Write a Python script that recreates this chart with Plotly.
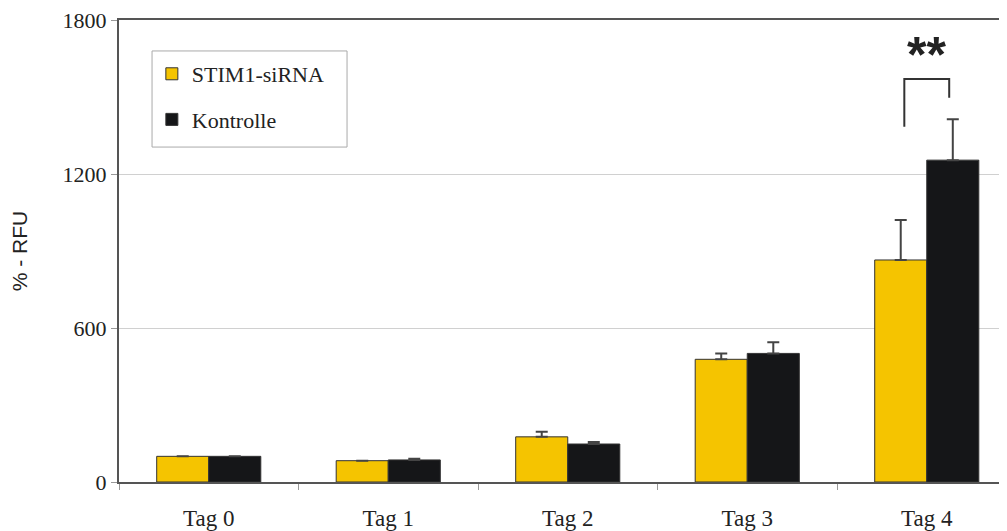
import plotly.graph_objects as go

categories = ["Tag 0", "Tag 1", "Tag 2", "Tag 3", "Tag 4"]
stim_values = [100, 83, 176, 478, 865]
stim_errors = [0, 0, 20, 23, 156]
ctrl_values = [100, 86, 148, 501, 1254]
ctrl_errors = [0, 5, 8, 43, 159]
y_ticks = [0, 600, 1200, 1800]

# significance bracket (category index offsets and y values)
bracket_cat = 4
bracket_left_y = 1384
bracket_right_y = 1497
bracket_top_y = 1570
star_y = 1665

YELLOW = "#F5C400"
BLACK = "#151618"
SERIF = "Liberation Serif, Times New Roman, serif"

fig = go.Figure()
fig.add_trace(go.Bar(
    x=categories, y=stim_values, name="STIM1-siRNA",
    marker=dict(color=YELLOW, line=dict(color="#333333", width=1)),
    error_y=dict(type="data", array=stim_errors, arrayminus=[0]*5, symmetric=False,
                 color="#444444", thickness=2, width=6),
    legendgroup="a",
))
fig.add_trace(go.Bar(
    x=categories, y=ctrl_values, name="Kontrolle",
    marker=dict(color=BLACK, line=dict(color="#333333", width=1)),
    error_y=dict(type="data", array=ctrl_errors, arrayminus=[0]*5, symmetric=False,
                 color="#444444", thickness=2, width=6),
    legendgroup="b",
))

# bracket
fig.add_shape(type="path",
              path=f"M {bracket_cat-0.125},{bracket_left_y} L {bracket_cat-0.125},{bracket_top_y} "
                   f"L {bracket_cat+0.125},{bracket_top_y} L {bracket_cat+0.125},{bracket_right_y}",
              xref="x", yref="y", line=dict(color="#333333", width=2))
fig.add_annotation(x=bracket_cat, y=star_y, xref="x", yref="y", text="<b>**</b>",
                   showarrow=False, font=dict(family="Liberation Sans, Arial", size=50, color="#222222"))

# legend frame
fig.add_shape(type="rect", xref="paper", yref="paper", x0=0.0372, x1=0.2568, y0=0.725, y1=0.933,
              line=dict(color="#aaaaaa", width=1), fillcolor="rgba(0,0,0,0)", layer="above")

fig.update_layout(
    width=999, height=531,
    margin=dict(l=111, r=0, t=12, b=57),
    paper_bgcolor="white", plot_bgcolor="white",
    barmode="group", bargap=0.42, bargroupgap=0,
    font=dict(family=SERIF, size=20, color="#222222"),
    showlegend=True,
    legend=dict(x=0.037, y=0.9286, xanchor="left", yanchor="top",
                borderwidth=0, bgcolor="rgba(0,0,0,0)",
                font=dict(family=SERIF, size=22, color="#222222"),
                tracegroupgap=14, itemwidth=30),
    xaxis=dict(range=[-0.5, 4.447], showline=True, linecolor="#555555", linewidth=2,
               mirror=True, ticks="outside", tickson="boundaries", ticklen=6,
               tickcolor="#999999", tickwidth=1, showgrid=False, ticklabelstandoff=14,
               tickfont=dict(family=SERIF, size=23, color="#222222")),
    yaxis=dict(range=[0, 1800], tickvals=y_ticks, showline=True, linecolor="#555555",
               linewidth=2, ticks="outside", ticklen=6, tickcolor="#999999",
               showgrid=True, gridcolor="#d0d0d0", gridwidth=1, zeroline=False,
               ticklabeloverflow="allow",
               tickfont=dict(family=SERIF, size=22, color="#222222"),
               title=dict(text="% - RFU", standoff=36,
                          font=dict(family="Liberation Sans, Arial", size=21, color="#222222"))),
)

fig.write_html("out.html")
